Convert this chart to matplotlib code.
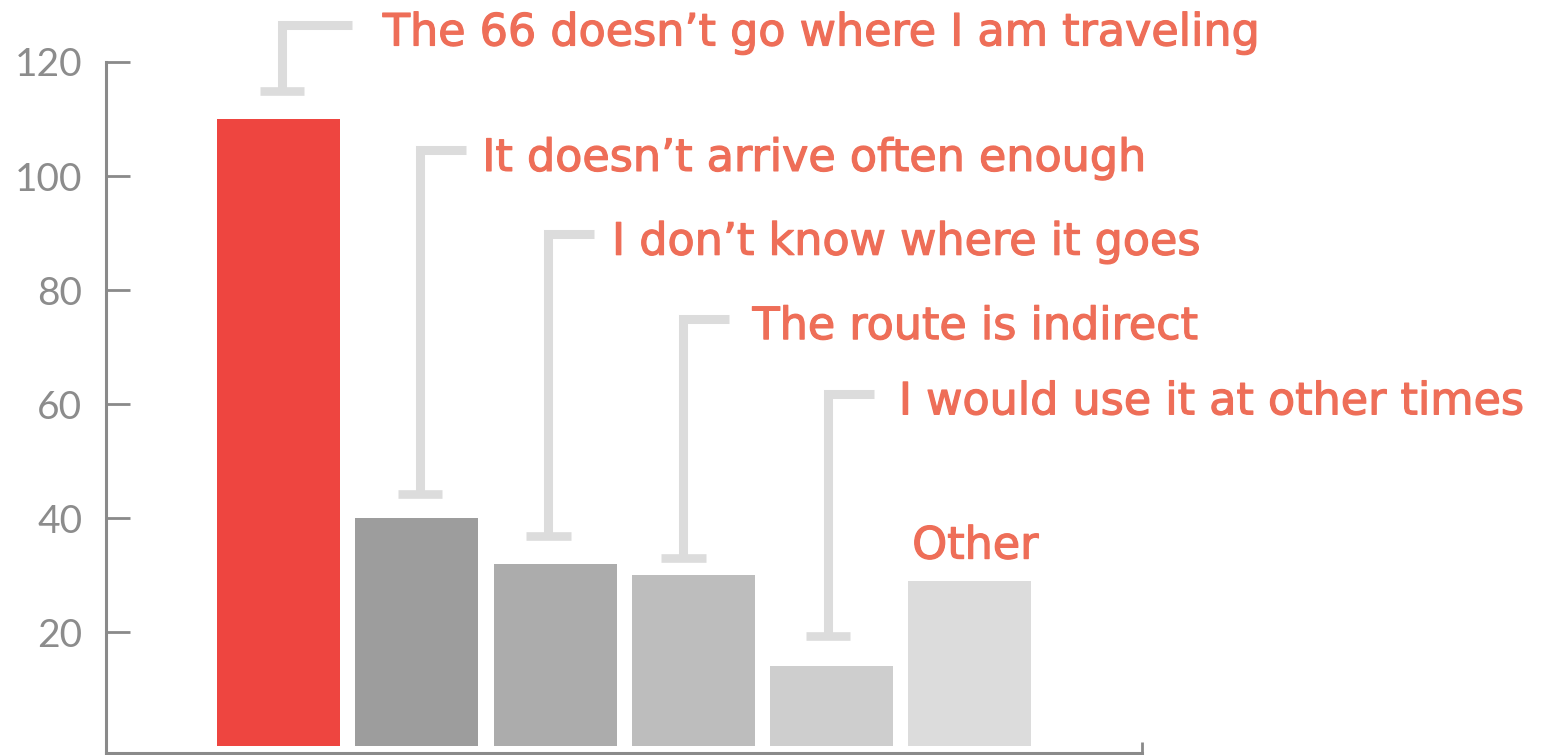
import matplotlib.pyplot as plt
import matplotlib.patheffects as pe

plt.rcParams['font.family'] = ['Lato', 'DejaVu Sans']

# survey answers, counts
reasons = ["The 66 doesn’t go where I am traveling",
           "It doesn’t arrive often enough",
           "I don’t know where it goes",
           "The route is indirect",
           "I would use it at other times",
           "Other"]
counts = [110, 40, 32, 30, 14, 29]
bar_colors = ["#EE4540", "#9D9D9D", "#ACACAC", "#BDBDBD", "#CECECE", "#DCDCDC"]

# where the bracket labels sit (y of the top arm) and the bracket caps
label_levels = [126.5, 104.5, 89.8, 75.0, 61.8]
cap_levels = [115.0, 44.3, 36.8, 33.0, 19.3]
yticks = [20, 40, 60, 80, 100, 120]

text_color = "#EE6E58"
bracket_color = "#DCDCDC"
axis_color = "#8A8A8A"

# small layout tweaks per bracket (data units)
stem_shift = [0.025, 0.024, -0.048, -0.072, -0.024]
arm_len = [0.51, 0.33, 0.33, 0.33, 0.33]
text_gap = [0.22, 0.12, 0.13, 0.17, 0.18]

fig = plt.figure(figsize=(15.46, 7.55), dpi=100)
ax = fig.add_axes([106 / 1546, 2 / 755, (1142 - 106) / 1546, (753 - 62) / 755])

x = list(range(len(counts)))
ax.bar(x, counts, width=0.89, color=bar_colors, zorder=2)

label_font = ['DejaVu Sans']
thicker = [pe.withStroke(linewidth=0.9, foreground=text_color)]
for i in range(5):
    vx = x[i] + stem_shift[i]
    top = label_levels[i]
    cap = cap_levels[i]
    arm_end = vx + arm_len[i]
    ax.plot([arm_end, vx, vx], [top, top, cap], color=bracket_color, lw=6.5,
            solid_joinstyle='miter', solid_capstyle='butt', clip_on=False, zorder=1)
    ax.plot([vx - 0.16, vx + 0.16], [cap, cap], color=bracket_color, lw=6.2,
            solid_capstyle='butt', clip_on=False, zorder=1)
    ax.text(arm_end + text_gap[i], top - 3.6, reasons[i], color=text_color,
            family=label_font, fontsize=32, va='baseline', ha='left',
            clip_on=False, path_effects=thicker)

ax.text(x[5] + 0.04, counts[5] + 3.9, reasons[5], color=text_color,
        family=label_font, fontsize=32, va='baseline', ha='center',
        path_effects=thicker)

ax.set_xlim(-1.247, 6.244)
ax.set_ylim(-1.2, 120)

for side in ['top', 'right']:
    ax.spines[side].set_visible(False)
for side in ['left', 'bottom']:
    ax.spines[side].set_color(axis_color)
    ax.spines[side].set_linewidth(2.2)

ax.set_yticks(yticks)
ax.set_yticklabels([str(t) for t in yticks])
ax.tick_params(axis='y', direction='in', length=17, width=2, color=axis_color,
               labelcolor="#8C8C8C", labelsize=28, pad=17)

ax.set_xticks([6.244])
ax.set_xticklabels([""])
ax.tick_params(axis='x', direction='in', length=8, width=2, color=axis_color)

fig.savefig("out.png", dpi=100)
